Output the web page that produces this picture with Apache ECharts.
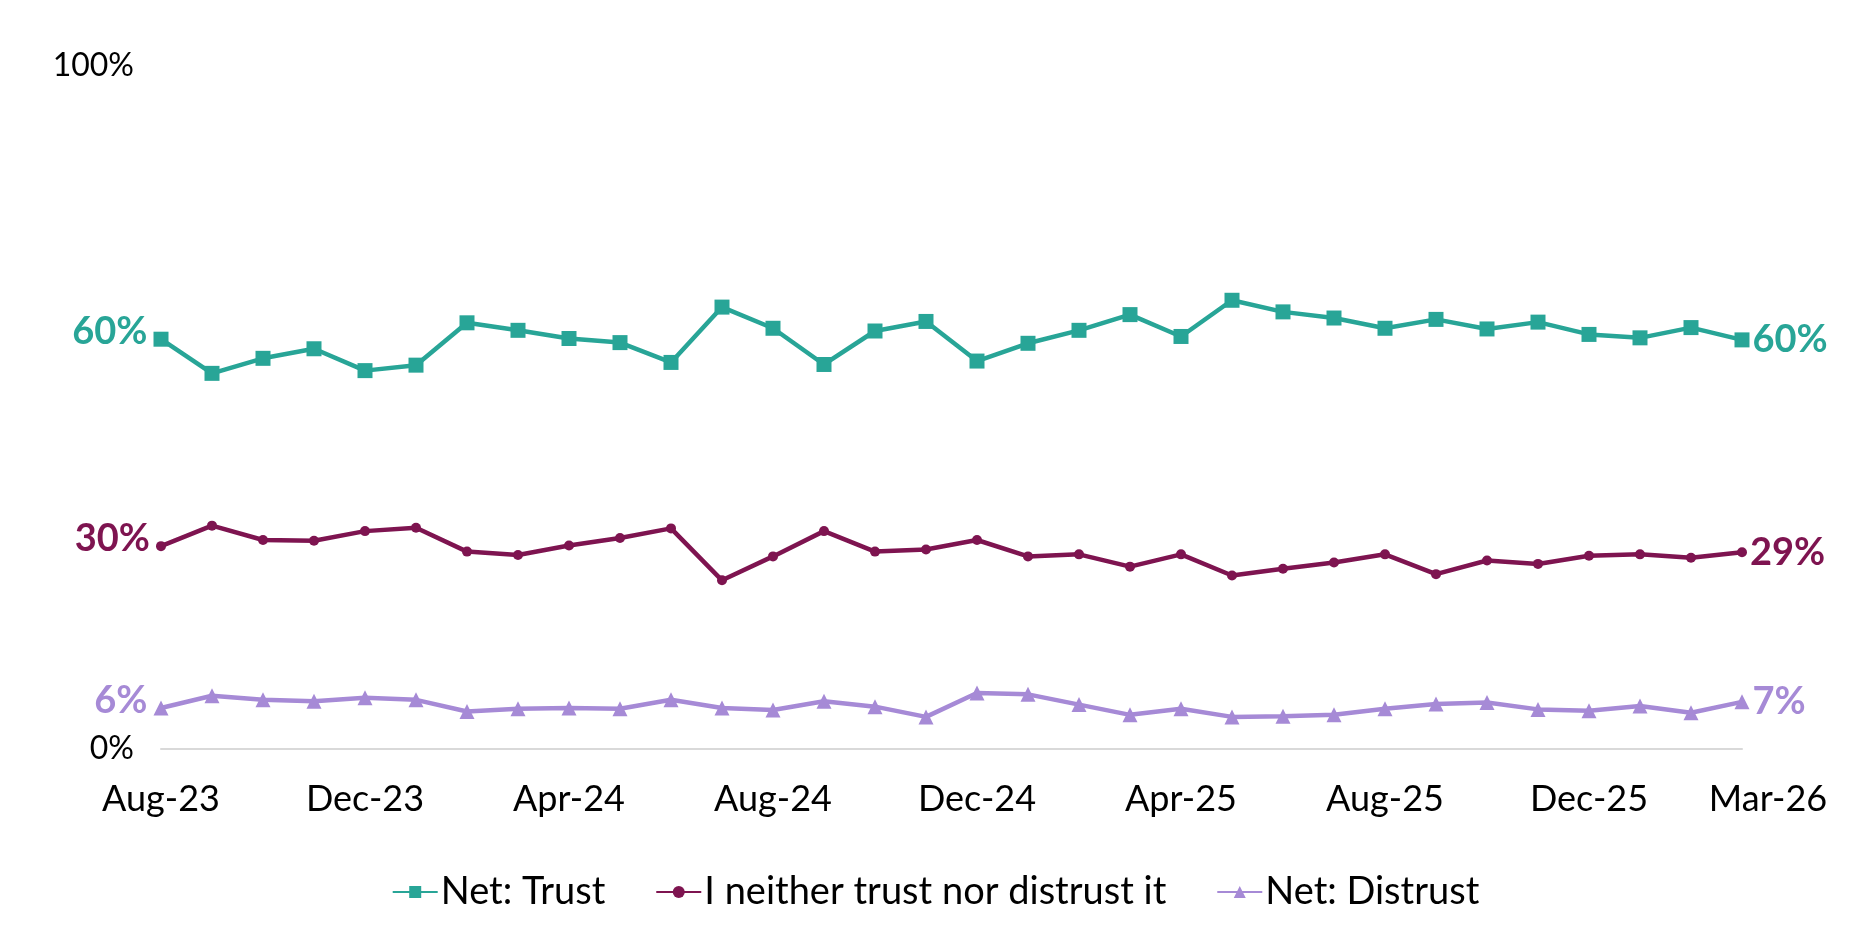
<!DOCTYPE html>
<html>
<head>
<meta charset="utf-8">
<script src="https://cdn.jsdelivr.net/npm/echarts@6/dist/echarts.min.js"></script>
<style>
html,body{margin:0;padding:0;background:#fff;}
#chart{width:1871px;height:931px;}
</style>
</head>
<body>
<div id="chart"></div>
<script>
const categories = ['Aug-23','Sep-23','Oct-23','Nov-23','Dec-23','Jan-24','Feb-24','Mar-24','Apr-24','May-24','Jun-24','Jul-24','Aug-24','Sep-24','Oct-24','Nov-24','Dec-24','Jan-25','Feb-25','Mar-25','Apr-25','May-25','Jun-25','Jul-25','Aug-25','Sep-25','Oct-25','Nov-25','Dec-25','Jan-26','Feb-26','Mar-26'];
const trust = [60.0, 55.0, 57.2, 58.6, 55.4, 56.2, 62.4, 61.3, 60.1, 59.5, 56.6, 64.7, 61.6, 56.3, 61.2, 62.6, 56.8, 59.4, 61.3, 63.6, 60.4, 65.7, 64.0, 63.1, 61.6, 62.9, 61.5, 62.5, 60.7, 60.2, 61.7, 59.9];
const neither = [29.7, 32.7, 30.6, 30.5, 31.9, 32.4, 28.9, 28.4, 29.8, 30.9, 32.3, 24.7, 28.2, 31.9, 28.9, 29.2, 30.6, 28.2, 28.5, 26.7, 28.5, 25.4, 26.4, 27.3, 28.5, 25.6, 27.6, 27.1, 28.3, 28.5, 28.0, 28.8];
const distrust = [6.0, 7.8, 7.2, 7.0, 7.5, 7.2, 5.5, 5.9, 6.0, 5.9, 7.2, 6.0, 5.7, 7.0, 6.2, 4.7, 8.2, 8.0, 6.5, 5.0, 5.9, 4.7, 4.8, 5.0, 5.9, 6.6, 6.8, 5.8, 5.6, 6.3, 5.3, 6.9];
const seriesNames = ['Net: Trust', 'I neither trust nor distrust it', 'Net: Distrust'];
const yTicks = [0, 100];

const FONT = 'Lato';
const colors = ['#28a597', '#7e1450', '#a68ad6'];
const symbols = ['rect', 'circle', 'triangle'];
const symbolSizes = [15, 10, 15];

function withEndLabels(values, color) {
  const last = values.length - 1;
  return values.map((v, i) => {
    if (i === 0) {
      return { value: v, label: { show: true, position: 'left', distance: 6, offset: [0, -7], color: color, fontWeight: 'bold', fontSize: 38, fontFamily: FONT, formatter: p => Math.round(p.value) + '%' } };
    }
    if (i === last) {
      return { value: v, label: { show: true, position: 'right', distance: 3, color: color, fontWeight: 'bold', fontSize: 38, fontFamily: FONT, formatter: p => Math.round(p.value) + '%' } };
    }
    return v;
  });
}

const allData = [trust, neither, distrust];
const chart = echarts.init(document.getElementById('chart'));
chart.setOption({
  animation: false,
  backgroundColor: '#fff',
  grid: { left: 161, right: 129, top: 66, bottom: 182 },
  legend: {
    top: 868,
    left: 'center',
    itemWidth: 45,
    itemHeight: 15,
    itemGap: 50,
    textStyle: { fontFamily: FONT, fontSize: 38, color: '#000', padding: [0, 0, 0, -2] },
    data: seriesNames
  },
  xAxis: {
    type: 'category',
    boundaryGap: false,
    data: categories,
    axisLine: { show: true, lineStyle: { color: '#d9d9d9', width: 2 } },
    axisTick: { show: false },
    axisLabel: {
      interval: (i) => i % 4 === 0 || i === categories.length - 1,
      margin: 32,
      fontFamily: FONT,
      fontSize: 36,
      color: '#000',
      formatter: (v, i) => i === categories.length - 1 ? '{last|' + v + '}' : v,
      rich: { last: { fontFamily: FONT, fontSize: 36, color: '#000', padding: [0, 0, 0, 52] } }
    },
    splitLine: { show: false }
  },
  yAxis: {
    type: 'value',
    min: 0,
    max: 100,
    interval: 100,
    axisLine: { show: false },
    axisTick: { show: false },
    splitLine: { show: false },
    axisLabel: {
      margin: 27,
      fontFamily: FONT,
      fontSize: 32,
      color: '#000',
      formatter: v => yTicks.includes(v) ? v + '%' : ''
    }
  },
  series: allData.map((d, k) => ({
    name: seriesNames[k],
    type: 'line',
    data: withEndLabels(d, colors[k]),
    symbol: symbols[k],
    symbolSize: symbolSizes[k],
    showAllSymbol: true,
    color: colors[k],
    lineStyle: { width: 4.5, color: colors[k] },
    itemStyle: { color: colors[k] }
  }))
});
</script>
</body>
</html>
